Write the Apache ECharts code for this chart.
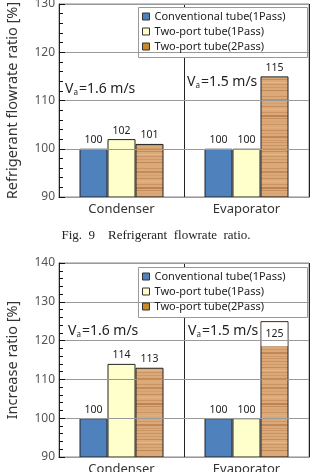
<!DOCTYPE html>
<html>
<head>
<meta charset="utf-8">
<script src="https://cdn.jsdelivr.net/npm/echarts@6/dist/echarts.min.js"></script>
<style>
html,body{margin:0;padding:0;background:#fff;}
#c{width:310px;height:472px;}
</style>
</head>
<body>
<div id="c"></div>
<script>
// ---- data ----
var categories = ['Condenser', 'Evaporator'];
var seriesNames = ['Conventional tube(1Pass)', 'Two-port tube(1Pass)', 'Two-port tube(2Pass)'];
var flowConv = [100, 100];
var flowTwo1 = [102, 100];
var flowTwo2 = [101, 115];
var incConv = [100, 100];
var incTwo1 = [114, 100];
var incTwo2 = [113, 125];
var flowTicks = {min: 90, max: 130, interval: 10};
var incTicks = {min: 90, max: 140, interval: 10};
var flowAxisName = 'Refrigerant flowrate ratio [%]';
var incAxisName = 'Increase ratio [%]';
var caption = 'Fig.  9    Refrigerant  flowrate  ratio.';

// ---- wood texture (style only) ----
function woodPattern() {
  var c = document.createElement('canvas');
  c.width = 8; c.height = 72;
  var g = c.getContext('2d');
  g.fillStyle = '#dba878';
  g.fillRect(0, 0, 8, 72);
  var stripes = [[1,1,'#c99262'],[4,1,'#d09a68'],[7,1,'#c58c5b'],[10,1,'#e2b486'],[12,1,'#cb9464'],
                 [15,1,'#cf9867'],[18,1,'#c18858'],[21,1,'#dcab7b'],[24,1,'#cb9464'],[27,2,'#c58c5b'],
                 [31,1,'#d39e6c'],[34,1,'#c58c5b'],[37,1,'#e2b486'],[40,1,'#cb9363'],[43,2,'#bd8353'],
                 [46,1,'#c78e5d'],[49,1,'#d6a26f'],[52,1,'#cb9464'],[55,1,'#ddae7e'],[58,1,'#c58c5b'],
                 [61,1,'#cf9867'],[64,2,'#c18757'],[68,1,'#d09a68'],[70,1,'#cb9464']];
  stripes.forEach(function (s) { g.fillStyle = s[2]; g.fillRect(0, s[0], 8, s[1]); });
  return c;
}
var wood = {image: woodPattern(), repeat: 'repeat'};
var colors = ['#4f81bd', '#ffffcc', wood];
var legendColors = ['#4f81bd', '#ffffcc', '#c8892a'];

var chart = echarts.init(document.getElementById('c'), null, {renderer: 'canvas'});

var grids = [
  {left: 59, top: 4, width: 250, height: 193},
  {left: 59, top: 263, width: 250, height: 194}
];

function xAxis(i) {
  return {
    type: 'category', gridIndex: i, data: categories,
    axisLine: {lineStyle: {color: '#222', width: 1}},
    axisTick: {show: false},
    splitLine: {show: true, lineStyle: {color: '#222', width: 1}},
    axisLabel: {color: '#333', fontSize: 13, fontFamily: 'Noto Sans', margin: 6}
  };
}
function yAxis(i, t, name) {
  return {
    type: 'value', gridIndex: i, min: t.min, max: t.max, interval: t.interval,
    name: name, nameLocation: 'middle', nameRotate: 90, nameGap: 39,
    nameTextStyle: {color: '#333', fontSize: 14.5, fontFamily: 'Noto Sans'},
    axisLine: {show: true, lineStyle: {color: '#222', width: 1}},
    axisTick: {show: true, inside: true, length: 6, lineStyle: {color: '#111', width: 1}},
    minorTick: {show: true, splitNumber: 5, length: 4, lineStyle: {color: '#111', width: 1}},
    splitLine: {show: true, lineStyle: {color: '#999', width: 1}},
    axisLabel: {color: '#555', fontSize: 12, fontFamily: 'Noto Sans', margin: 4},
    z: 5
  };
}
function legend(top) {
  return {
    orient: 'vertical', left: 139, top: top, z: 6,
    padding: [3, 4, 3, 3], itemGap: 4, itemWidth: 7, itemHeight: 7,
    textStyle: {color: '#222', fontSize: 11, fontFamily: 'Noto Sans'},
    data: seriesNames.map(function (n, k) {
      return {name: n, icon: 'rect', itemStyle: {color: legendColors[k], borderColor: '#333', borderWidth: 1}};
    })
  };
}
function bar(i, k, vals, extraLabel) {
  return {
    type: 'bar', name: seriesNames[k], xAxisIndex: i, yAxisIndex: i,
    data: vals.map(function (v, j) {
      var d = {value: v};
      if (extraLabel && extraLabel[j]) d.label = extraLabel[j];
      return d;
    }),
    barWidth: 28, barGap: '0%',
    itemStyle: {color: colors[k], borderColor: '#222', borderWidth: 1},
    label: {show: true, position: 'top', distance: 3, color: '#222', fontSize: 10.5, fontFamily: 'Noto Sans'}
  };
}
var insideLabel = {position: 'insideTop', distance: 1, backgroundColor: '#fff', width: 26, height: 24,
                   lineHeight: 24, align: 'center'};

function vText(x, y, speed) {
  return {
    type: 'text', x: x, y: y, z: 10,
    style: {
      text: '{v|V}{s|a}{v|=' + speed + ' m/s}',
      rich: {
        v: {fontSize: 14, fontFamily: 'Noto Sans', fill: '#222', lineHeight: 18},
        s: {fontSize: 8, fontFamily: 'Noto Sans', fill: '#222', lineHeight: 18, padding: [8, 1, 0, 0]}
      },
      verticalAlign: 'middle'
    }
  };
}
function legendBox(y) {
  return {type: 'rect', z: 5, shape: {x: 138.5, y: y + 0.5, width: 169, height: 50},
          style: {fill: '#fff', stroke: '#999', lineWidth: 1}};
}

chart.setOption({
  animation: false,
  grid: grids.map(function (g) {
    return Object.assign({show: true, borderColor: '#888', borderWidth: 1, backgroundColor: 'transparent',
                          containLabel: false, outerBoundsMode: 'none'}, g);
  }),
  xAxis: [xAxis(0), xAxis(1)],
  yAxis: [yAxis(0, flowTicks, flowAxisName), yAxis(1, incTicks, incAxisName)],
  legend: [legend(8), legend(268)],
  series: [
    bar(0, 0, flowConv), bar(0, 1, flowTwo1), bar(0, 2, flowTwo2),
    bar(1, 0, incConv), bar(1, 1, incTwo1), bar(1, 2, incTwo2, [null, insideLabel])
  ],
  graphic: [
    legendBox(7), legendBox(267),
    vText(65, 89, '1.6'), vText(187, 82, '1.5'),
    vText(68, 331, '1.6'), vText(188, 331, '1.5'),
    {type: 'text', x: 156, y: 236, style: {text: caption, font: '13px "Liberation Serif"', fill: '#222',
      align: 'center', verticalAlign: 'middle'}}
  ]
});
</script>
</body>
</html>
